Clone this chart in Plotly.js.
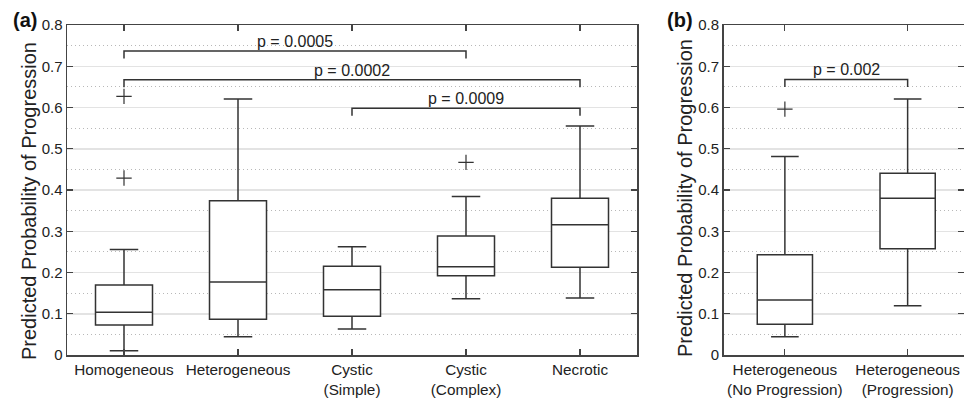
<!DOCTYPE html>
<html><head><meta charset="utf-8">
<script src="https://cdn.plot.ly/plotly-3.0.1.min.js"></script>
<style>html,body{margin:0;padding:0;background:#fff;overflow:hidden}#c{width:964px;height:399px}</style>
</head><body><div id="c"></div>
<script>
// ---- data ----
const catsA = ['Homogeneous','Heterogeneous','Cystic<br>(Simple)','Cystic<br>(Complex)','Necrotic'];
const posA = [1,2,3,4,5];
const lowA  = [0.0105, 0.0444, 0.063, 0.1366, 0.138];
const q1A   = [0.0727, 0.0865, 0.0937, 0.192, 0.2126];
const medA  = [0.1035, 0.177, 0.158, 0.214, 0.316];
const q3A   = [0.170, 0.374, 0.215, 0.2885, 0.380];
const highA = [0.256, 0.6206, 0.2626, 0.384, 0.555];
const outXA = [1, 1, 4];
const outYA = [0.627, 0.429, 0.467];

const catsB = ['Heterogeneous<br>(No Progression)','Heterogeneous<br>(Progression)'];
const posB = [1,2];
const lowB  = [0.0444, 0.1196];
const q1B   = [0.0743, 0.2578];
const medB  = [0.1333, 0.380];
const q3B   = [0.243, 0.4404];
const highB = [0.481, 0.6206];
const outXB = [1];
const outYB = [0.596];

const brFromA = [1, 1, 3];
const brToA   = [4, 5, 5];
const brHA    = [0.737, 0.667, 0.598];
const brLabA  = ['p = 0.0005', 'p = 0.0002', 'p = 0.0009'];
const brFromB = [1];
const brToB   = [2];
const brHB    = [0.668];
const brLabB  = ['p = 0.002'];

const yTicks = [0,0.1,0.2,0.3,0.4,0.5,0.6,0.7,0.8];
const yTitle = 'Predicted Probability of Progression';

// ---- styling ----
const FONT = '"Liberation Sans", Arial, Helvetica, sans-serif';
const INK = '#333';
const W = 964, H = 399;
const yDom = [(H-355)/H, (H-25)/H];
const DROP = 0.018;

function boxTrace(pos, lo, q1, med, q3, hi, xa, ya, w){
  return {type:'box', x:pos, lowerfence:lo, q1:q1, median:med, q3:q3, upperfence:hi,
    xaxis:xa, yaxis:ya, width:w, whiskerwidth:0.5, boxpoints:false,
    fillcolor:'#fff', line:{color:INK, width:1.5}, hoverinfo:'skip', showlegend:false};
}
function outTrace(x, y, xa, ya){
  return {type:'scatter', mode:'markers', x:x, y:y, xaxis:xa, yaxis:ya,
    marker:{symbol:'cross-thin-open', size:11, color:INK, line:{color:INK, width:1.2}}, showlegend:false, hoverinfo:'skip'};
}
function bracketTraces(from, to, h, xa, ya){
  return from.map((f,i)=>({type:'scatter', mode:'lines',
    x:[f, f, to[i], to[i]], y:[h[i]-DROP, h[i], h[i], h[i]-DROP],
    xaxis:xa, yaxis:ya, line:{color:INK, width:1.5}, showlegend:false, hoverinfo:'skip'}));
}
function bracketLabels(from, to, h, lab, xr, yr){
  return from.map((f,i)=>({xref:xr, yref:yr, x:(f+to[i])/2, y:h[i], text:lab[i],
    showarrow:false, yanchor:'bottom', yshift:-1, font:{family:FONT, size:16, color:'#222'}}));
}

const traces = [
  boxTrace(posA, lowA, q1A, medA, q3A, highA, 'x', 'y', 0.5),
  outTrace(outXA, outYA, 'x', 'y'),
  ...bracketTraces(brFromA, brToA, brHA, 'x', 'y'),
  boxTrace(posB, lowB, q1B, medB, q3B, highB, 'x2', 'y2', 0.45),
  outTrace(outXB, outYB, 'x2', 'y2'),
  ...bracketTraces(brFromB, brToB, brHB, 'x2', 'y2'),
];

function xAx(dom, rng, cats, pos){
  return {domain:dom, range:rng, tickvals:pos, ticktext:cats, ticks:'inside', ticklen:6,
    tickcolor:'#444', tickwidth:1.2, mirror:'ticks', showline:true, linecolor:'#444', linewidth:1.5,
    showgrid:false, zeroline:false, fixedrange:true, tickfont:{family:FONT, size:15.3, color:'#222'}};
}
function yAx(anchor){
  return {domain:yDom, range:[0,0.8], tickvals:yTicks, ticks:'inside', ticklen:6, tickcolor:'#444', tickwidth:1.2,
    mirror:'ticks', showline:true, linecolor:'#444', linewidth:1.5, zeroline:false, anchor:anchor,
    showgrid:true, gridcolor:'#e3e3e3', gridwidth:1.5,
    minor:{dtick:0.05, tick0:0, showgrid:true, griddash:'1px,3px', gridcolor:'#b8b8b8', gridwidth:1, ticks:''},
    tickfont:{family:FONT, size:15, color:'#222'}, fixedrange:true};
}

const layout = {
  width:W, height:H, margin:{l:0,r:0,t:0,b:0}, paper_bgcolor:'#fff', plot_bgcolor:'#fff',
  font:{family:FONT, color:'#222'},
  xaxis: xAx([67/W, 637/W], [0.5, 5.5], catsA, posA),
  yaxis: yAx('x'),
  xaxis2: xAx([723.5/W, 1], [0.5, 2.5 - 5/122.7], catsB, posB),
  yaxis2: yAx('x2'),
  annotations: [
    ...bracketLabels(brFromA, brToA, brHA, brLabA, 'x', 'y'),
    ...bracketLabels(brFromB, brToB, brHB, brLabB, 'x2', 'y2'),
    {xref:'paper', yref:'paper', x:29/W, y:1-201/H, text:yTitle, textangle:-90, showarrow:false,
     xanchor:'center', yanchor:'middle', font:{family:FONT, size:20, color:'#222'}},
    {xref:'paper', yref:'paper', x:685/W, y:1-198/H, text:yTitle, textangle:-90, showarrow:false,
     xanchor:'center', yanchor:'middle', font:{family:FONT, size:20, color:'#222'}},
    {xref:'paper', yref:'paper', x:24.7/W, y:1-20.5/H, text:'<b>(a)</b>', showarrow:false,
     xanchor:'center', yanchor:'middle', font:{family:FONT, size:20, color:'#111'}},
    {xref:'paper', yref:'paper', x:679.5/W, y:1-20.5/H, text:'<b>(b)</b>', showarrow:false,
     xanchor:'center', yanchor:'middle', font:{family:FONT, size:20, color:'#111'}},
  ]
};
Plotly.newPlot('c', traces, layout, {staticPlot:true, displayModeBar:false});
</script></body></html>
